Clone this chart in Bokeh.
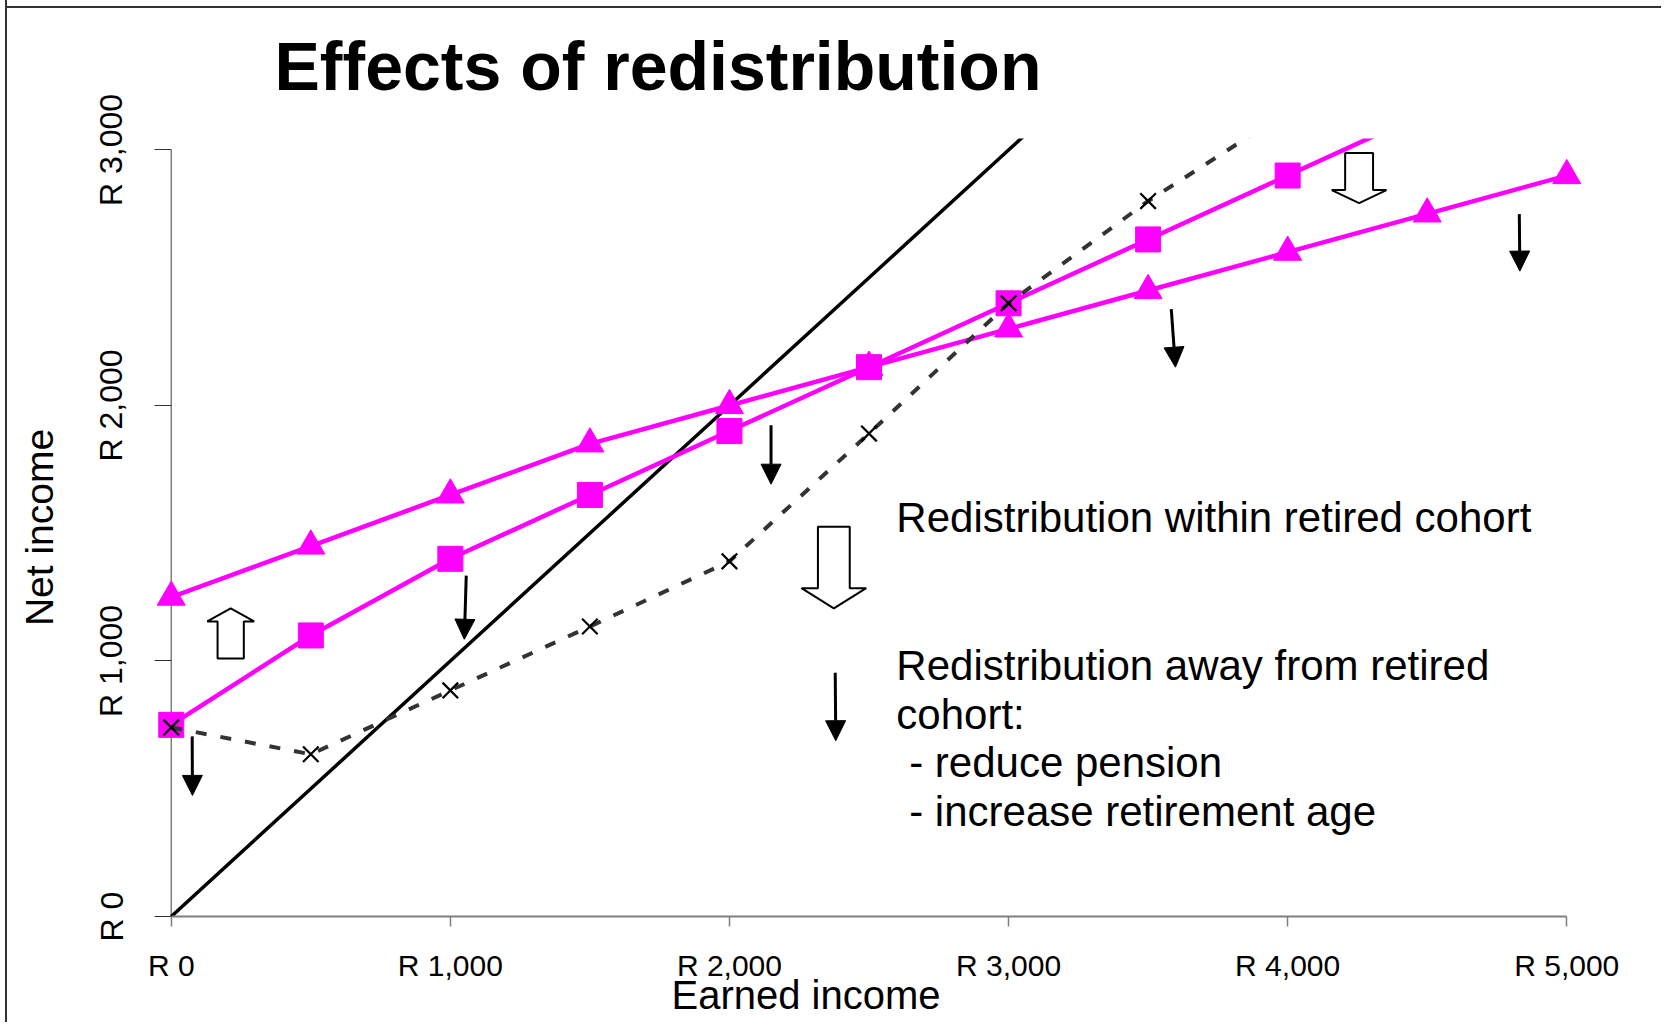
from bokeh.plotting import figure
from bokeh.models import Range1d, FixedTicker, Label, Arrow, NormalHead, Title
from bokeh.embed import file_html
from bokeh.resources import INLINE

# ---------------- data ----------------
earned = [0, 500, 1000, 1500, 2000, 2500, 3000, 3500, 4000, 4500, 5000]
net_no_redistribution = [0, 500, 1000, 1500, 2000, 2500, 3000, 3500, 4000, 4500, 5000]
net_triangle = [1250, 1450, 1650, 1850, 2000, 2150, 2300, 2450, 2600, 2750, 2900]
earned_square = [0, 500, 1000, 1500, 2000, 2500, 3000, 3500, 4000, 4500]
net_square = [750, 1100, 1400, 1650, 1900, 2150, 2400, 2650, 2900, 3150]
earned_cross = [0, 500, 1000, 1500, 2000, 2500, 3000, 3500, 4000]
net_cross = [740, 635, 885, 1135, 1390, 1890, 2400, 2800, 3150]

x_ticks = [0, 1000, 2000, 3000, 4000, 5000]
x_tick_labels = ["R 0", "R 1,000", "R 2,000", "R 3,000", "R 4,000", "R 5,000"]
y_ticks = [0, 1000, 2000, 3000]
y_tick_labels = ["R 0", "R 1,000", "R 2,000", "R 3,000"]

title_text = "Effects of redistribution"
x_title = "Earned income"
y_title = "Net income"
note_lines = [
    "Redistribution within retired cohort",
    "Redistribution away from retired",
    "cohort:",
    "- reduce pension",
    "- increase retirement age",
]

# ---------------- annotation geometry (data units) ----------------
# solid arrows: x_start, y_start, x_end, y_end
solid_arrows = [
    (75, 705, 76, 474),
    (1057, 1334, 1050, 1085),
    (2149, 1923, 2149, 1692),
    (3583, 2377, 3598, 2150),
    (4830, 2749, 4832, 2526),
    (2379, 954, 2381, 688),
]
# hollow block arrows: cx, y_tail, y_headbase, y_tip, shaft_half, head_half
hollow_arrows = [
    (213, 1010, 1155, 1206, 47, 84),
    (2374, 1525, 1285, 1206, 57, 116),
    (4256, 2988, 2843, 2792, 50, 98),
]
note_pos = [(2598, 1563), (2598, 983), (2598, 791), (2644, 603), (2644, 412)]

FONT = "Liberation Sans"
MAGENTA = "#FF00FF"

p = figure(width=1656, height=1034, output_backend="svg", toolbar_location=None,
           x_range=Range1d(-60, 5060), y_range=Range1d(0, 3045),
           min_border_left=147, min_border_right=80, min_border_top=150,
           min_border_bottom=106, title=None)
p.outline_line_color = None
p.background_fill_color = "white"
p.border_fill_color = None
p.grid.visible = False
# outer frame of the picture: left border + a top rule drawn behind the transparent canvas border
p.styles = {
    "margin-left": "5px",
    "margin-top": "-12px",
    "border-left": "2px solid #333333",
    "background": "linear-gradient(#333333, #333333) 0px 18px / 100% 2px no-repeat",
}

# x axis
p.xaxis.ticker = FixedTicker(ticks=x_ticks)
p.xaxis.major_label_overrides = {t: l for t, l in zip(x_ticks, x_tick_labels)}
p.xaxis.bounds = (min(x_ticks), max(x_ticks))
p.xaxis.axis_line_color = "#7f7f7f"
p.xaxis.axis_line_width = 2
p.xaxis.major_tick_line_color = "#7f7f7f"
p.xaxis.major_tick_line_width = 1.5
p.xaxis.major_tick_out = 10
p.xaxis.major_tick_in = 0
p.xaxis.minor_tick_line_color = None
p.xaxis.major_label_standoff = 22
p.xaxis.major_label_text_font = FONT
p.xaxis.major_label_text_font_size = "30px"
p.xaxis.major_label_text_color = "black"

# y axis (line drawn at earned = 0, ticks reach back to it)
p.yaxis.ticker = FixedTicker(ticks=y_ticks)
p.yaxis.major_label_overrides = {t: l for t, l in zip(y_ticks, y_tick_labels)}
p.yaxis.axis_line_color = None
p.yaxis.major_tick_line_color = "#333333"
p.yaxis.major_tick_line_width = 1
p.yaxis.major_tick_out = 0
p.yaxis.major_tick_in = 17
p.yaxis.minor_tick_line_color = None
p.yaxis.major_label_orientation = "vertical"
p.yaxis.major_label_standoff = 25
p.yaxis.major_label_text_font = FONT
p.yaxis.major_label_text_font_size = "32px"
p.yaxis.major_label_text_color = "black"
p.yaxis.axis_label = y_title
p.yaxis.axis_label_text_font = FONT
p.yaxis.axis_label_text_font_size = "39px"
p.yaxis.axis_label_text_font_style = "normal"
p.yaxis.axis_label_text_color = "black"
p.yaxis.axis_label_standoff = 30
p.segment(x0=[min(x_ticks)], y0=[min(y_ticks)], x1=[min(x_ticks)], y1=[max(y_ticks)],
          line_color="#7f7f7f", line_width=1.5)

# series
p.line(earned, net_no_redistribution, line_color="black", line_width=3.5)
p.line(earned, net_triangle, line_color=MAGENTA, line_width=4.5)
p.scatter(earned, net_triangle, marker="triangle", size=28, fill_color=MAGENTA, line_color=MAGENTA)
p.line(earned_square, net_square, line_color=MAGENTA, line_width=4.5)
p.scatter(earned_square, net_square, marker="square", size=25, fill_color=MAGENTA, line_color=MAGENTA)
p.line(earned_cross, net_cross, line_color="#333333", line_width=4, line_dash="11 14")
p.scatter(earned_cross, net_cross, marker="x", size=22, line_color="black", line_width=2.2)

# hollow arrows
xs_list, ys_list = [], []
for cx, yt, yb, ytip, sh, hh in hollow_arrows:
    xs_list.append([cx - sh, cx + sh, cx + sh, cx + hh, cx, cx - hh, cx - sh])
    ys_list.append([yt, yt, yb, yb, ytip, yb, yb])
p.patches(xs_list, ys_list, fill_color="white", line_color="black", line_width=2)

# solid arrows
for x0, y0, x1, y1 in solid_arrows:
    p.add_layout(Arrow(end=NormalHead(size=20, fill_color="black", line_color="black", line_width=1),
                       x_start=x0, y_start=y0, x_end=x1, y_end=y1,
                       line_color="black", line_width=3))

# texts inside the plot
for (tx, ty), t in zip(note_pos, note_lines):
    p.add_layout(Label(x=tx, y=ty, text=t, text_font=FONT, text_font_size="42px",
                       text_color="black", text_baseline="alphabetic"))

# chart title and x title
p.add_layout(Title(text=title_text, align="left", offset=120, standoff=69,
                   vertical_align="bottom",
                   text_font=FONT, text_font_size="68px", text_font_style="bold",
                   text_color="black"), "above")
p.add_layout(Title(text=x_title, align="left", offset=517, standoff=-27,
                   text_font=FONT, text_font_size="40px", text_font_style="normal",
                   text_color="black"), "below")

open("out.html", "w").write(file_html(p, INLINE))
